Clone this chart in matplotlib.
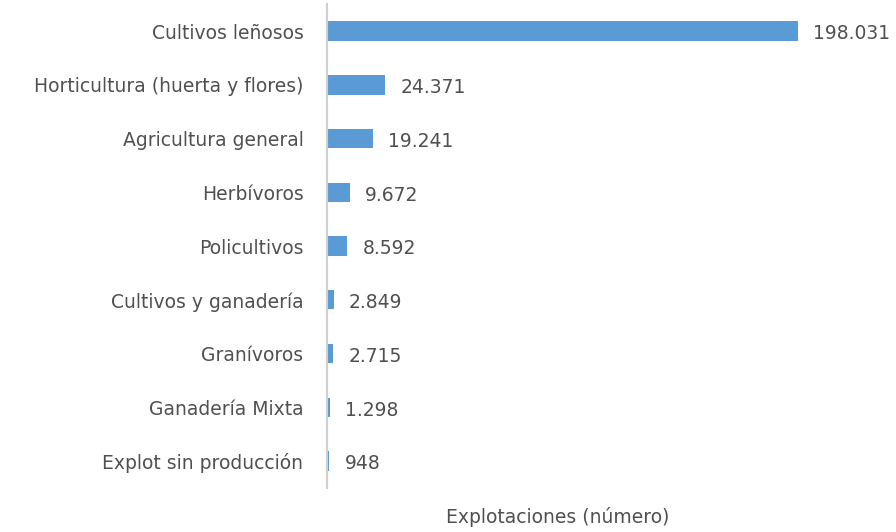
import matplotlib.pyplot as plt

categories = ["Cultivos leñosos", "Horticultura (huerta y flores)", "Agricultura general",
              "Herbívoros", "Policultivos", "Cultivos y ganadería", "Granívoros",
              "Ganadería Mixta", "Explot sin producción"]
values = [198031, 24371, 19241, 9672, 8592, 2849, 2715, 1298, 948]
value_labels = ["198.031", "24.371", "19.241", "9.672", "8.592", "2.849", "2.715", "1.298", "948"]

plt.rcParams['font.family'] = ['DejaVu Sans']
text_color = "#505050"
fs = 13.5

fig = plt.figure(figsize=(8.96, 5.32), dpi=100)
ax = fig.add_axes([0.365, 0.083, 0.635, 0.909])

ypos = list(range(len(categories)))
ax.barh(ypos, values, height=0.36, color="#5B9BD5")
ax.set_ylim(len(categories) - 0.5, -0.5)
ax.set_xlim(0, 198031 * 569 / 471)

for y, v, lab in zip(ypos, values, value_labels):
    ax.annotate(lab, (v, y), xytext=(11, -2), textcoords="offset points",
                ha="left", va="center", fontsize=fs, color=text_color)

ax.set_yticks(ypos)
ax.set_yticklabels(categories, fontsize=fs, color=text_color)
ax.tick_params(axis="y", length=0, pad=17)
ax.set_xticks([])
for s in ["top", "right", "bottom"]:
    ax.spines[s].set_visible(False)
ax.spines["left"].set_color("#D0D0D0")
ax.spines["left"].set_linewidth(1.5)

fig.text(558 / 896, 1 - 517 / 532, "Explotaciones (número)", ha="center", va="center",
         fontsize=fs, color=text_color)

fig.savefig("out.png", dpi=100)
